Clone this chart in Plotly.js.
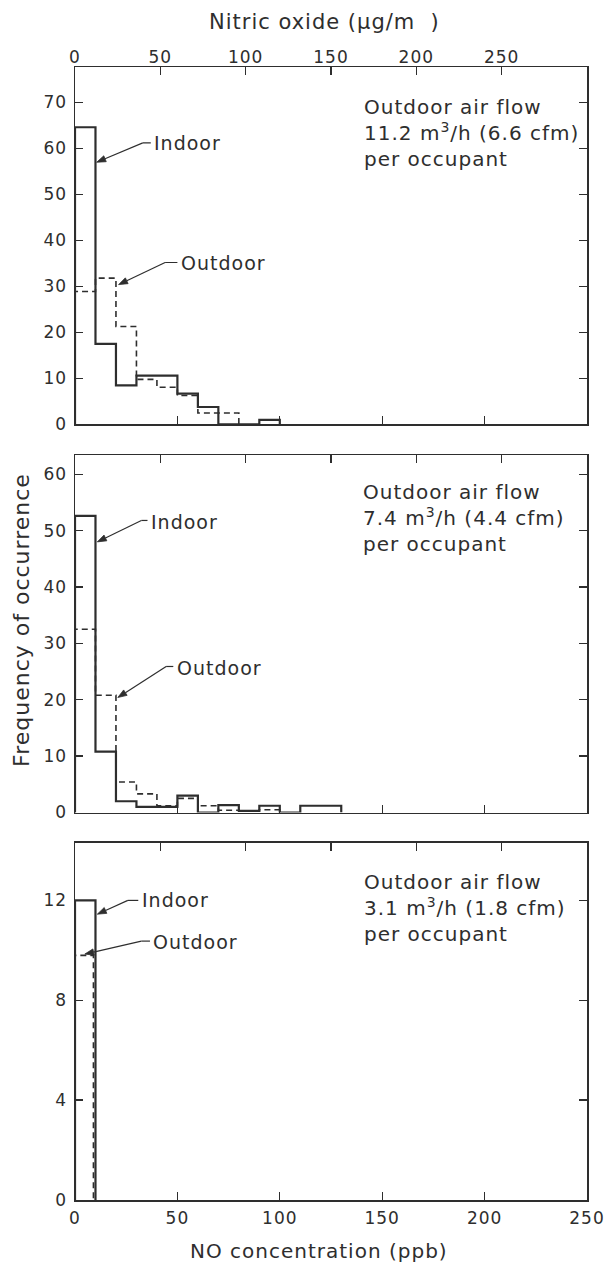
<!DOCTYPE html>
<html>
<head>
<meta charset="utf-8">
<script src="https://cdn.plot.ly/plotly-3.0.1.min.js"></script>
<style>
html,body{margin:0;padding:0;background:#fff;}
svg text{letter-spacing:1px;}
</style>
</head>
<body>
<div id="chart" style="width:604px;height:1269px;"></div>
<script>
// ---- data (NO concentration bins in ppb, frequency of occurrence) ----
const edgesIndoorA  = [0, 10, 20, 30, 40, 50, 60, 70, 80, 90, 100];
const indoorA       = [64.6, 17.5, 8.5, 10.6, 10.6, 6.7, 3.8, 0, 0, 1.0];
const edgesOutdoorA = [0, 10, 20, 30, 40, 50, 60, 70, 80];
const outdoorA      = [28.9, 31.8, 21.3, 9.8, 8.1, 6.3, 2.5, 2.5];

const edgesIndoorB  = [0, 10, 20, 30, 40, 50, 60, 70, 80, 90, 100, 110, 120, 130];
const indoorB       = [52.6, 10.8, 2.0, 1.0, 1.0, 3.0, 0, 1.3, 0.3, 1.2, 0, 1.2, 1.2];
const edgesOutdoorB = [0, 10, 20, 30, 40, 50, 60, 70, 80, 90, 100];
const outdoorB      = [32.5, 20.8, 5.4, 3.3, 1.2, 2.5, 1.2, 0.4, 0.3, 0.5];

const edgesIndoorC  = [0, 10];
const indoorC       = [12];
const edgesOutdoorC = [0, 9];
const outdoorC      = [9.8];

const ppbTicks  = [0, 50, 100, 150, 200, 250];
const ugTicks   = [0, 50, 100, 150, 200, 250];
const yTicksA   = [0, 10, 20, 30, 40, 50, 60, 70];
const yTicksB   = [0, 10, 20, 30, 40, 50, 60];
const yTicksC   = [0, 4, 8, 12];
const ugPerPpb  = 1.2;

const panelNotes = [
  "Outdoor air flow<br>11.2 m<sup>3</sup>/h (6.6 cfm)<br>per occupant",
  "Outdoor air flow<br>7.4 m<sup>3</sup>/h (4.4 cfm)<br>per occupant",
  "Outdoor air flow<br>3.1 m<sup>3</sup>/h (1.8 cfm)<br>per occupant"
];

// ---- geometry ----
const W = 604, H = 1269;
const M = {l: 75, r: 17, t: 67, b: 69};
const plotW = W - M.l - M.r, plotH = H - M.t - M.b;
const X_RANGE = [0, 250];
const domA = [0.6845, 1.0], domB = [0.3420, 0.6575], domC = [0.0, 0.3151];
const rngA = [0, 77.7], rngB = [0, 63.4], rngC = [0, 14.3];
const sx = plotW / (X_RANGE[1] - X_RANGE[0]);
function sy(dom, rng) { return (dom[1] - dom[0]) * plotH / (rng[1] - rng[0]); }
const syA = sy(domA, rngA), syB = sy(domB, rngB), syC = sy(domC, rngC);

// ---- helpers ----
const INK = '#2e2e2e';
const FONT = '"DejaVu Sans", "Noto Sans", sans-serif';

function stepTrace(edges, vals, xa, ya, dashed) {
  const x = [edges[0]].concat(edges);
  const y = [0].concat(vals).concat([0]);
  return {
    x: x, y: y, xaxis: xa, yaxis: ya, type: 'scatter', mode: 'lines',
    line: {shape: 'hv', color: INK, width: dashed ? 1.6 : 2.2, dash: dashed ? '6px,4px' : 'solid'},
    showlegend: false, hoverinfo: 'skip'
  };
}
function axisHolder(xa, ya) {
  return {x: [], y: [], xaxis: xa, yaxis: ya, type: 'scatter', mode: 'lines', showlegend: false, hoverinfo: 'skip'};
}

const traces = [
  stepTrace(edgesOutdoorA, outdoorA, 'x', 'y', true),
  stepTrace(edgesIndoorA, indoorA, 'x', 'y', false),
  stepTrace(edgesOutdoorB, outdoorB, 'x2', 'y2', true),
  stepTrace(edgesIndoorB, indoorB, 'x2', 'y2', false),
  stepTrace(edgesOutdoorC, outdoorC, 'x3', 'y3', true),
  stepTrace(edgesIndoorC, indoorC, 'x3', 'y3', false),
  axisHolder('x4', 'y'),
  axisHolder('x5', 'y2'),
  axisHolder('x6', 'y3')
];

const TICKFONT = {family: FONT, size: 17, color: INK};

function xBottom(anchor, labels) {
  return {
    anchor: anchor, domain: [0, 1], range: X_RANGE,
    tickmode: 'array', tickvals: ppbTicks, ticktext: ppbTicks.map(String),
    ticks: 'inside', ticklen: 8, tickwidth: 1.3, tickcolor: INK,
    showticklabels: labels, tickfont: TICKFONT, ticklabelstandoff: 2, ticklabeloverflow: 'allow',
    showline: true, mirror: true, linecolor: INK, linewidth: 1.5,
    showgrid: false, zeroline: false, fixedrange: true
  };
}
function xTop(anchor, over, labels) {
  return {
    anchor: anchor, overlaying: over, side: 'top', range: [X_RANGE[0] * ugPerPpb, X_RANGE[1] * ugPerPpb],
    tickmode: 'array', tickvals: ugTicks, ticktext: ugTicks.map(String),
    ticks: 'inside', ticklen: 8, tickwidth: 1.3, tickcolor: INK,
    showticklabels: labels, tickfont: TICKFONT, ticklabelstandoff: 0, ticklabeloverflow: 'allow',
    showline: false, showgrid: false, zeroline: false, fixedrange: true
  };
}
function yAxis(anchor, domain, range, vals) {
  return {
    anchor: anchor, domain: domain, range: range,
    tickmode: 'array', tickvals: vals, ticktext: vals.map(String),
    ticks: 'inside', ticklen: 8, tickwidth: 1.3, tickcolor: INK,
    tickfont: TICKFONT, ticklabelstandoff: 3, ticklabeloverflow: 'allow',
    showline: true, mirror: 'ticks', linecolor: INK, linewidth: 1.5,
    showgrid: false, zeroline: false, fixedrange: true
  };
}

function label(txt, xr, yr, x, y) {
  return {text: txt, xref: xr, yref: yr, x: x, y: y, xanchor: 'left', yanchor: 'middle',
          showarrow: false, font: {family: FONT, size: 19, color: INK}};
}
function note(txt, xr, yr, x, y) {
  return {text: txt, xref: xr, yref: yr, x: x, y: y, xanchor: 'left', yanchor: 'top', align: 'left',
          showarrow: false, font: {family: FONT, size: 20, color: INK}};
}
// bent leader: horizontal from text (x0) to bend (x1) at y, then diagonal to head, with filled arrowhead
function leader(xr, yr, syv, x0, x1, y, hx, hy) {
  const out = [];
  out.push({type: 'line', xref: xr, yref: yr, x0: x0, x1: x1, y0: y, y1: y, line: {color: INK, width: 1.2}});
  const dx = (hx - x1) * sx, dy = (hy - y) * syv;
  const len = Math.hypot(dx, dy), ux = dx / len, uy = dy / len;
  const L = 9, HW = 3.2;
  const bx = -ux * L, by = -uy * L;
  const px = -uy * HW, py = ux * HW;
  const lx = hx + (bx + px) / sx, ly = hy + (by + py) / syv;
  const rx = hx + (bx - px) / sx, ry = hy + (by - py) / syv;
  const mx = hx + bx / sx, my = hy + by / syv;
  out.push({type: 'line', xref: xr, yref: yr, x0: x1, x1: mx, y0: y, y1: my, line: {color: INK, width: 1.2}});
  out.push({type: 'path', xref: xr, yref: yr,
            path: 'M' + hx + ',' + hy + ' L' + lx + ',' + ly + ' L' + rx + ',' + ry + ' Z',
            fillcolor: INK, line: {color: INK, width: 0.8}});
  return out;
}

const annotations = [
  label('Indoor', 'x', 'y', 37.8, 61.2),
  label('Outdoor', 'x', 'y', 51, 35.0),
  note(panelNotes[0], 'x', 'y', 140, 72.0),
  label('Indoor', 'x2', 'y2', 35.9, 51.6),
  label('Outdoor', 'x2', 'y2', 48.6, 25.6),
  note(panelNotes[1], 'x2', 'y2', 139.5, 59.4),
  label('Indoor', 'x3', 'y3', 31.5, 12.0),
  label('Outdoor', 'x3', 'y3', 37.2, 10.35),
  note(panelNotes[2], 'x3', 'y3', 140, 13.3),
  {text: 'Frequency of occurrence', xref: 'paper', yref: 'paper', x: -0.1035, y: 0.512,
   textangle: -90, showarrow: false, xanchor: 'center', yanchor: 'middle',
   font: {family: FONT, size: 22, color: INK}},
  {text: 'NO concentration (ppb)', xref: 'paper', yref: 'paper', x: 0.477, y: -0.045,
   showarrow: false, xanchor: 'center', yanchor: 'middle',
   font: {family: FONT, size: 20, color: INK}},
  {text: 'Nitric oxide (\u03bcg/m  )', xref: 'paper', yref: 'paper', x: 0.488, y: 1.0397,
   showarrow: false, xanchor: 'center', yanchor: 'middle',
   font: {family: FONT, size: 21, color: INK}}
];

const shapes = [].concat(
  leader('x', 'y', syA, 37.0, 33.1, 61.2, 10.6, 57.0),
  leader('x', 'y', syA, 50.0, 44.0, 35.2, 21.3, 30.4),
  leader('x2', 'y2', syB, 35.4, 32.4, 51.8, 10.9, 48.0),
  leader('x2', 'y2', syB, 48.0, 44.5, 25.9, 20.9, 20.4),
  leader('x3', 'y3', syC, 30.9, 25.8, 12.0, 10.9, 11.45),
  leader('x3', 'y3', syC, 36.6, 32.4, 10.37, 4.8, 9.85)
);

const layout = {
  width: W, height: H,
  margin: M,
  paper_bgcolor: '#ffffff', plot_bgcolor: '#ffffff',
  font: {family: FONT, color: INK},
  showlegend: false,
  xaxis:  xBottom('y', false),
  xaxis2: xBottom('y2', false),
  xaxis3: xBottom('y3', true),
  xaxis4: xTop('y', 'x', true),
  xaxis5: xTop('y2', 'x2', false),
  xaxis6: xTop('y3', 'x3', false),
  yaxis:  yAxis('x', domA, rngA, yTicksA),
  yaxis2: yAxis('x2', domB, rngB, yTicksB),
  yaxis3: yAxis('x3', domC, rngC, yTicksC),
  annotations: annotations,
  shapes: shapes
};

Plotly.newPlot('chart', traces, layout, {staticPlot: true, displayModeBar: false});
</script>
</body>
</html>
